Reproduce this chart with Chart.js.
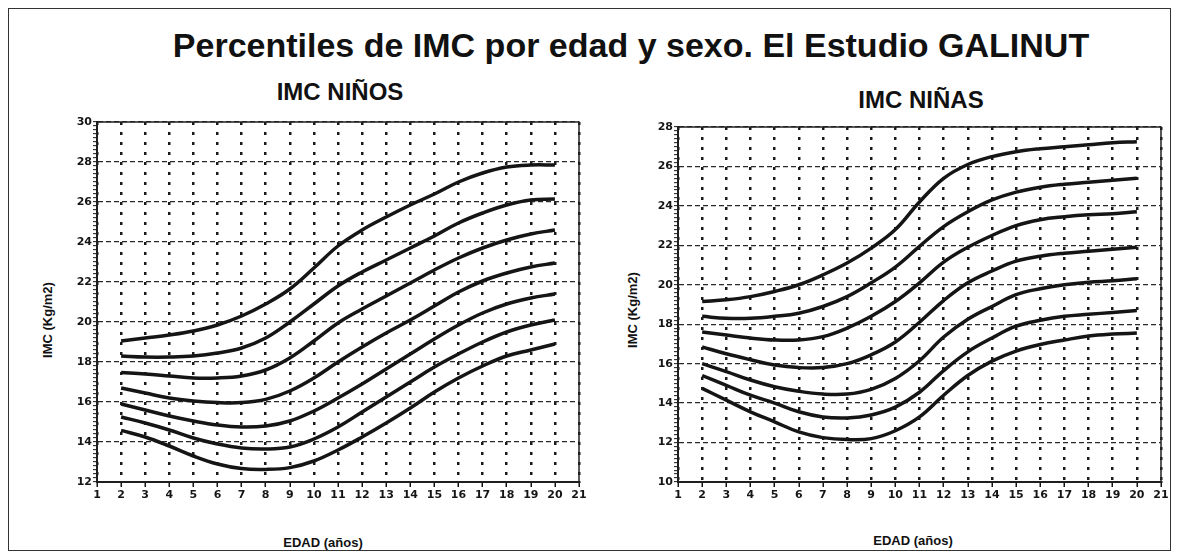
<!DOCTYPE html>
<html>
<head>
<meta charset="utf-8">
<script src="https://cdn.jsdelivr.net/npm/chart.js@4/dist/chart.umd.min.js"></script>
<style>
  html, body { margin: 0; padding: 0; background: #fff; }
  #page { position: relative; width: 1181px; height: 560px; overflow: hidden; font-family: "Liberation Sans", Arial, sans-serif; color: #111; }
  #frame { position: absolute; left: 8px; top: 8px; width: 1163px; height: 543px; border: 1.5px solid #333; box-sizing: border-box; }
  .lbl { position: absolute; white-space: nowrap; font-weight: bold; transform: translate(-50%, -50%); }
  #title { left: 631px; top: 45px; font-size: 34px; }
  .sub { font-size: 24px; }
  .ax { font-size: 13px; font-family: "Liberation Sans Narrow", "Liberation Sans", Arial, sans-serif; }
  .rot { transform: translate(-50%, -50%) rotate(-90deg); }
  canvas { position: absolute; }
</style>
</head>
<body>
<div id="page">
  <div id="frame"></div>
  <div class="lbl" id="title">Percentiles de IMC por edad y sexo. El Estudio GALINUT</div>
  <div class="lbl sub" style="left:340px; top:92px;">IMC NIÑOS</div>
  <div class="lbl sub" style="left:921px; top:100px;">IMC NIÑAS</div>
  <div class="lbl ax rot" style="left:47px; top:320px;">IMC (Kg/m2)</div>
  <div class="lbl ax rot" style="left:632px; top:310px;">IMC (Kg/m2)</div>
  <div class="lbl ax" style="left:323px; top:542px;">EDAD (años)</div>
  <div class="lbl ax" style="left:913px; top:540px;">EDAD (años)</div>
  <canvas id="boys" style="left:20px; top:70px;" width="580" height="485"></canvas>
  <canvas id="girls" style="left:600px; top:70px;" width="581" height="485"></canvas>
</div>
<script>
'use strict';

// edad (años) de cada punto de las curvas
const ages = [2, 3, 4, 5, 6, 7, 8, 9, 10, 11, 12, 13, 14, 15, 16, 17, 18, 19, 20];

// IMC niños, de la curva superior a la inferior
const boysP97 = [19.05, 19.2, 19.35, 19.55, 19.85, 20.3, 20.9, 21.65, 22.7, 23.8, 24.6, 25.25, 25.85, 26.4, 27.0, 27.45, 27.75, 27.85, 27.85];
const boysP90 = [18.3, 18.25, 18.25, 18.3, 18.45, 18.7, 19.2, 20.0, 20.9, 21.8, 22.5, 23.1, 23.7, 24.3, 24.95, 25.45, 25.85, 26.1, 26.15];
const boysP75 = [17.47, 17.4, 17.3, 17.2, 17.2, 17.3, 17.6, 18.2, 19.05, 19.95, 20.65, 21.3, 21.95, 22.6, 23.2, 23.7, 24.1, 24.4, 24.6];
const boysP50 = [16.7, 16.45, 16.2, 16.05, 15.97, 15.97, 16.13, 16.55, 17.2, 18.0, 18.75, 19.45, 20.1, 20.8, 21.5, 22.05, 22.45, 22.75, 22.95];
const boysP25 = [15.9, 15.6, 15.3, 15.05, 14.85, 14.75, 14.8, 15.05, 15.55, 16.2, 16.9, 17.65, 18.4, 19.15, 19.85, 20.45, 20.9, 21.2, 21.4];
const boysP10 = [15.25, 14.95, 14.6, 14.2, 13.9, 13.7, 13.65, 13.75, 14.15, 14.75, 15.5, 16.25, 17.0, 17.75, 18.4, 19.0, 19.5, 19.85, 20.1];
const boysP3  = [14.58, 14.25, 13.8, 13.3, 12.9, 12.67, 12.63, 12.72, 13.05, 13.6, 14.25, 14.95, 15.7, 16.5, 17.2, 17.8, 18.3, 18.6, 18.9];

// IMC niñas
const girlsP97 = [19.15, 19.24, 19.4, 19.66, 20.0, 20.5, 21.1, 21.86, 22.8, 24.2, 25.4, 26.1, 26.5, 26.75, 26.9, 27.0, 27.1, 27.2, 27.25];
const girlsP90 = [18.4, 18.3, 18.3, 18.4, 18.56, 18.9, 19.4, 20.1, 20.9, 21.95, 22.95, 23.7, 24.3, 24.7, 24.95, 25.1, 25.2, 25.3, 25.4];
const girlsP75 = [17.6, 17.45, 17.3, 17.2, 17.2, 17.37, 17.8, 18.4, 19.15, 20.1, 21.15, 21.9, 22.5, 23.0, 23.3, 23.45, 23.55, 23.6, 23.7];
const girlsP50 = [16.85, 16.5, 16.2, 15.93, 15.8, 15.8, 16.0, 16.45, 17.1, 18.1, 19.2, 20.1, 20.7, 21.2, 21.45, 21.6, 21.7, 21.8, 21.9];
const girlsP25 = [16.0, 15.6, 15.17, 14.83, 14.6, 14.46, 14.46, 14.7, 15.25, 16.15, 17.35, 18.25, 18.9, 19.5, 19.8, 20.0, 20.13, 20.2, 20.3];
const girlsP10 = [15.4, 14.9, 14.4, 14.0, 13.56, 13.3, 13.25, 13.4, 13.8, 14.55, 15.65, 16.6, 17.3, 17.9, 18.2, 18.4, 18.5, 18.6, 18.7];
const girlsP3  = [14.75, 14.15, 13.56, 13.05, 12.54, 12.25, 12.15, 12.2, 12.6, 13.3, 14.4, 15.4, 16.13, 16.64, 16.97, 17.2, 17.4, 17.5, 17.55];

// ejes
const xRange = [1, 21];
const boysYRange = [12, 30];
const girlsYRange = [10, 28];

const INK = '#151515';
const tickFont = { family: 'DejaVu Sans', size: 11, weight: 'bold' };

// plot area box (top / right edges are not axes)
const frameBox = {
  id: 'frameBox',
  afterDraw(chart) {
    const { ctx, chartArea: a } = chart;
    ctx.save();
    ctx.strokeStyle = '#222';
    ctx.lineWidth = 1.5;
    ctx.strokeRect(a.left, a.top, a.right - a.left, a.bottom - a.top);
    ctx.restore();
  }
};

const isMajor = v => Math.abs(v - Math.round(v)) < 1e-6 && Math.round(v) % 2 === 0;

function makeChart(id, series, yRange, pad, yWidth) {
  const datasets = series.map(vals => ({
    data: ages.map((a, i) => ({ x: a, y: vals[i] })),
    borderColor: INK,
    borderWidth: 3.5,
    pointRadius: 0,
    tension: 0.4,
    fill: false
  }));
  return new Chart(document.getElementById(id), {
    type: 'line',
    data: { datasets },
    plugins: [frameBox],
    options: {
      responsive: false,
      animation: false,
      layout: { padding: pad },
      plugins: { legend: { display: false }, tooltip: { enabled: false } },
      scales: {
        x: {
          type: 'linear', min: xRange[0], max: xRange[1],
          afterFit(s) { s.height = 73; },
          ticks: { stepSize: 1, autoSkip: false, maxRotation: 0, padding: 2, color: INK, font: tickFont },
          grid: { color: '#1a1a1a', lineWidth: 2.5, tickLength: 5, tickColor: INK, tickWidth: 1.5 },
          border: { display: true, color: INK, width: 2, dash: [3, 7] }
        },
        y: {
          min: yRange[0], max: yRange[1],
          afterFit(s) { s.width = yWidth; },
          ticks: {
            stepSize: 0.2, autoSkip: false, padding: 1, color: INK, font: tickFont,
            callback: v => (isMajor(v) ? String(Math.round(v)) : '')
          },
          grid: {
            color: c => (isMajor(c.tick.value) ? '#2a2a2a' : 'rgba(0,0,0,0)'),
            lineWidth: 1.3, tickLength: 4, tickColor: INK, tickWidth: 1
          },
          border: { display: true, color: INK, width: 2, dash: [5, 3] }
        }
      }
    }
  });
}

makeChart('boys', [boysP97, boysP90, boysP75, boysP50, boysP25, boysP10, boysP3],
  boysYRange, { top: 52, right: 21, left: 0, bottom: 0 }, 77);
makeChart('girls', [girlsP97, girlsP90, girlsP75, girlsP50, girlsP25, girlsP10, girlsP3],
  girlsYRange, { top: 57, right: 20, left: 0, bottom: 0 }, 78);
</script>
</body>
</html>
